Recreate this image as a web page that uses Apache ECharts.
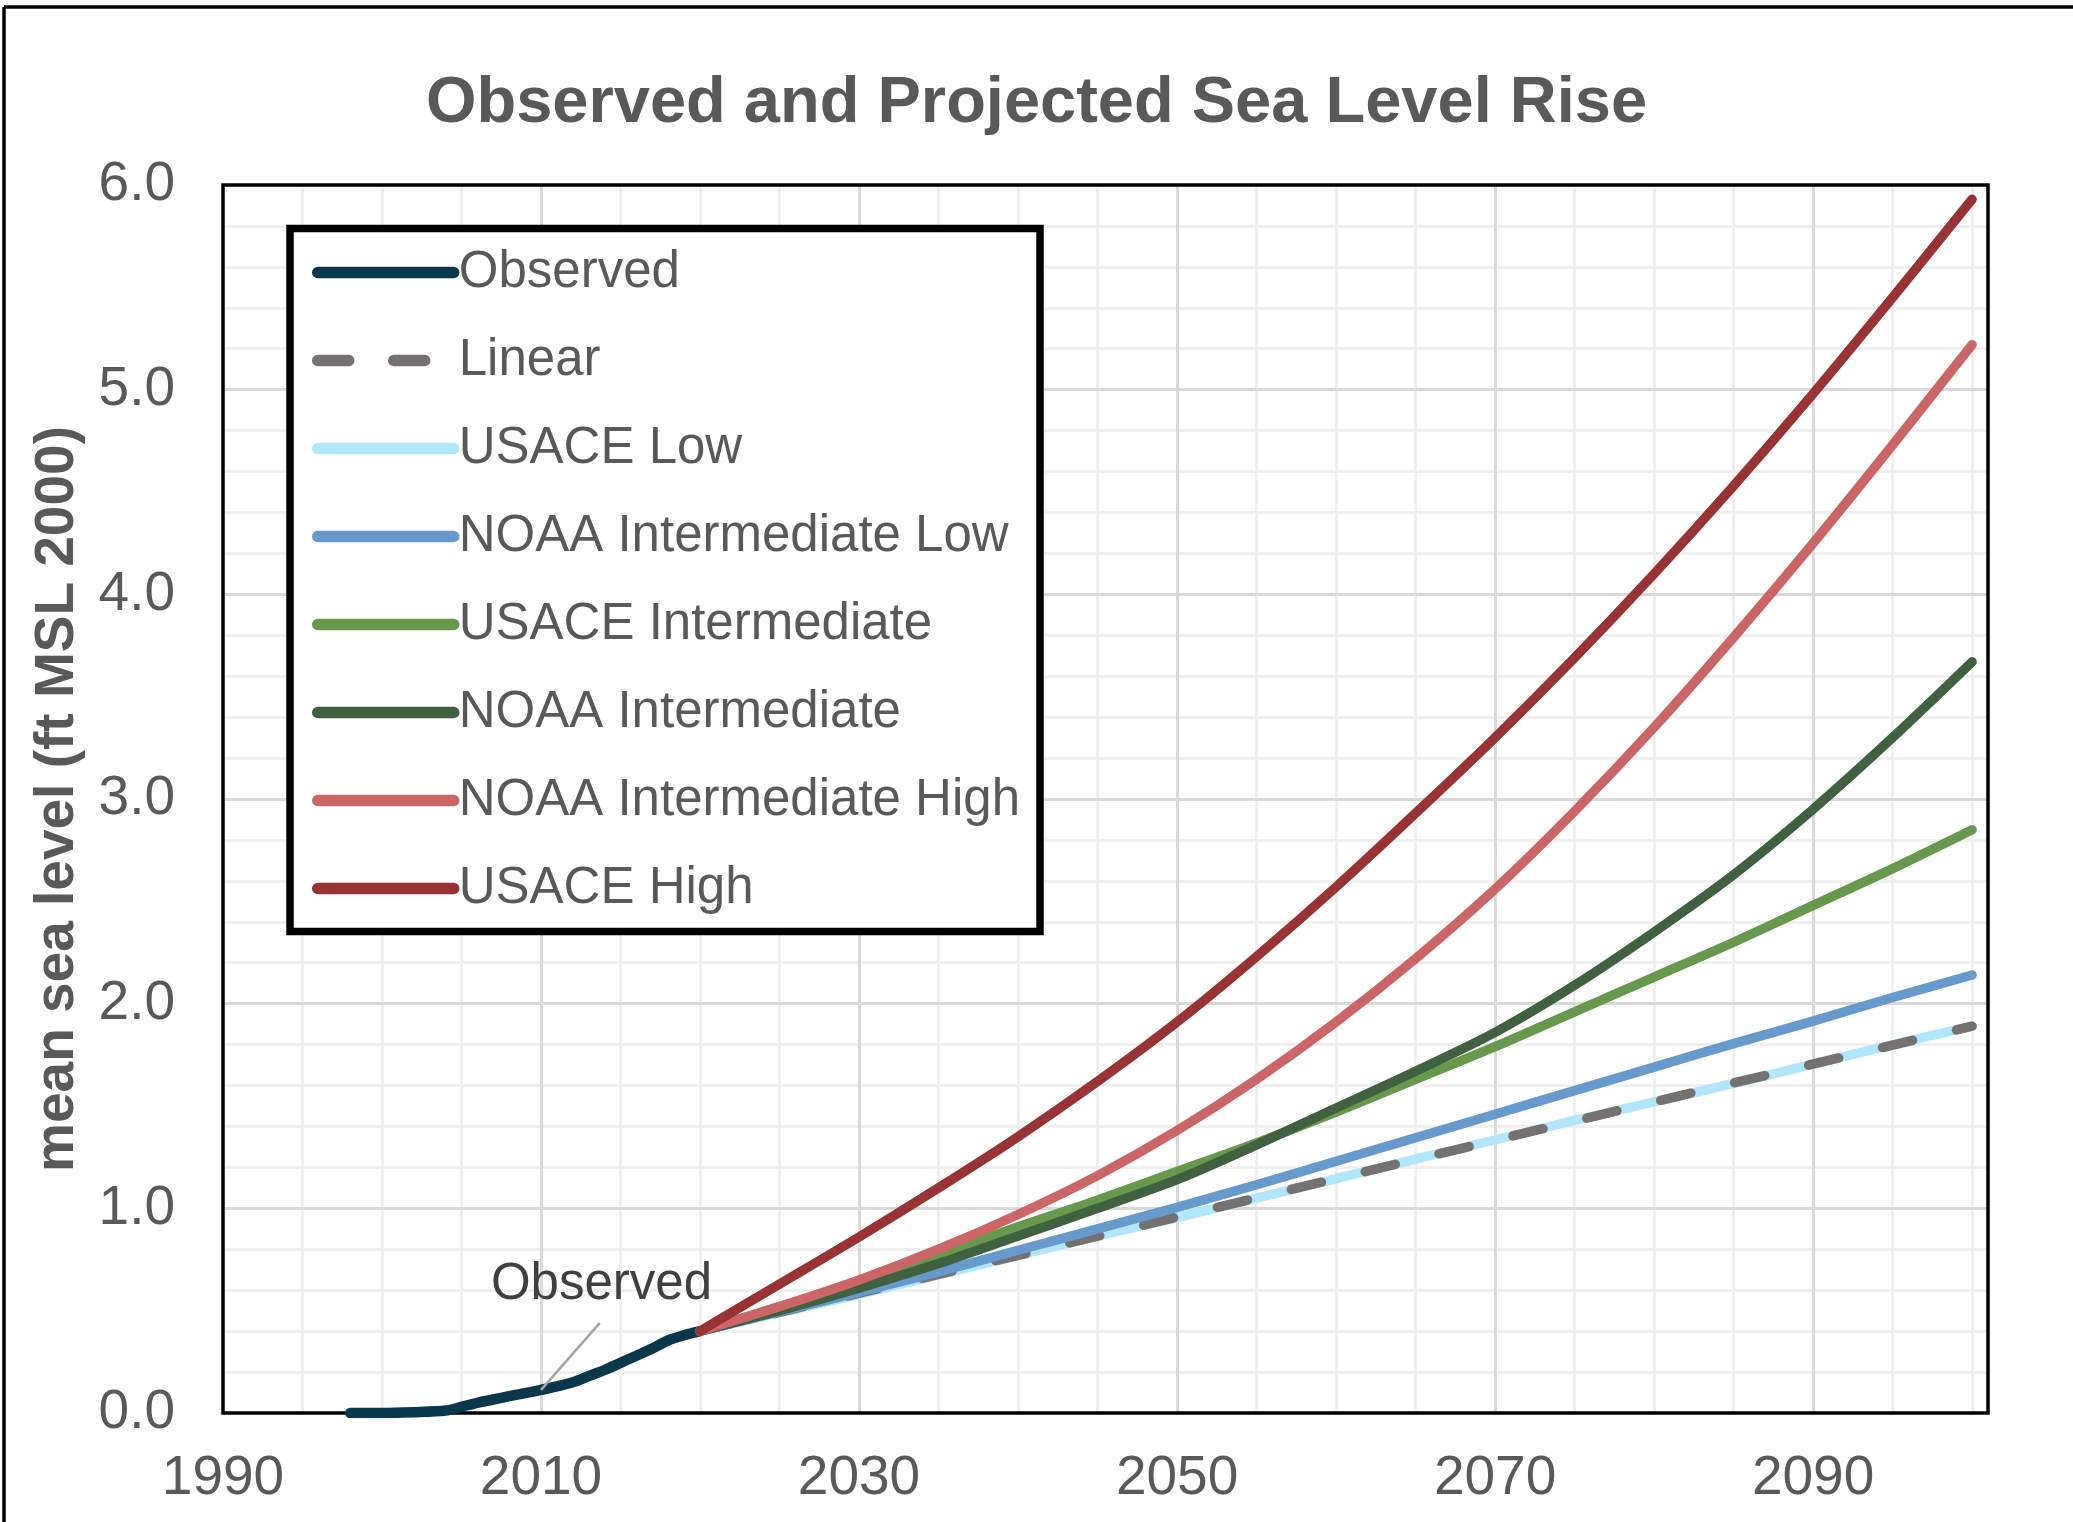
<!DOCTYPE html>
<html>
<head>
<meta charset="utf-8">
<script src="https://cdn.jsdelivr.net/npm/echarts@6/dist/echarts.min.js"></script>
<style>
  html, body { margin: 0; padding: 0; background: #ffffff; }
  #chart { width: 2073px; height: 1522px; }
</style>
</head>
<body>
<div id="chart"></div>
<script>
// ---- data ----
const obsYears  = [1998, 2000, 2002, 2004, 2005, 2006, 2007, 2008, 2009, 2010, 2011, 2012, 2013, 2014, 2015, 2016, 2017, 2018, 2019, 2020];
const obsValues = [0.0, 0.0, 0.004, 0.012, 0.030, 0.050, 0.066, 0.082, 0.097, 0.113, 0.130, 0.150, 0.180, 0.210, 0.245, 0.280, 0.315, 0.355, 0.380, 0.400];

const projYears = [2020, 2025, 2030, 2035, 2040, 2045, 2050, 2055, 2060, 2065, 2070, 2075, 2080, 2085, 2090, 2095, 2100];
const usaceLow        = [0.40, 0.49, 0.58, 0.675, 0.77, 0.865, 0.955, 1.05, 1.145, 1.24, 1.335, 1.43, 1.52, 1.61, 1.705, 1.80, 1.89];
const noaaIntLow      = [0.40, 0.495, 0.59, 0.69, 0.795, 0.90, 1.005, 1.115, 1.23, 1.345, 1.46, 1.575, 1.69, 1.805, 1.915, 2.03, 2.14];
const usaceInt        = [0.40, 0.52, 0.64, 0.77, 0.91, 1.04, 1.18, 1.32, 1.47, 1.63, 1.79, 1.96, 2.13, 2.30, 2.48, 2.66, 2.85];
const noaaInt         = [0.40, 0.50, 0.61, 0.73, 0.865, 1.00, 1.14, 1.31, 1.49, 1.67, 1.86, 2.09, 2.35, 2.63, 2.95, 3.30, 3.67];
const noaaIntHigh     = [0.40, 0.52, 0.65, 0.80, 0.97, 1.16, 1.38, 1.63, 1.91, 2.22, 2.56, 2.94, 3.35, 3.79, 4.25, 4.73, 5.22];
const usaceHigh       = [0.40, 0.63, 0.86, 1.10, 1.35, 1.62, 1.91, 2.23, 2.57, 2.93, 3.30, 3.69, 4.10, 4.53, 4.98, 5.45, 5.93];

const linearYears  = [2020, 2040, 2060, 2080, 2100];
const linearValues = [0.40, 0.77, 1.145, 1.52, 1.89];

const xTickYears = [1990, 2010, 2030, 2050, 2070, 2090];
const yTickValues = [0, 1, 2, 3, 4, 5, 6];

const legendOrder = ['Observed', 'Linear', 'USACE Low', 'NOAA Intermediate Low', 'USACE Intermediate', 'NOAA Intermediate', 'NOAA Intermediate High', 'USACE High'];

const annotationText = 'Observed';
const annotationPoint = [2010, 0.113];
const annotationLineEnd = [2013.7, 0.44];
const annotationLabelAt = [2013.8, 0.625];

// ---- helpers ----
function pairs(xs, ys) { return xs.map((x, i) => [x, ys[i]]); }
const FONT = "'Liberation Sans', Arial, sans-serif";
const GRID = { left: 223, top: 185, width: 1765, height: 1228 };
const LW = 9.5;

function lineSeries(name, xs, ys, color, extra) {
  return Object.assign({
    name: name,
    type: 'line',
    xAxisIndex: 1,
    yAxisIndex: 1,
    data: pairs(xs, ys),
    smooth: 0.3,
    symbol: 'none',
    showSymbol: false,
    silent: true,
    z: 2,
    lineStyle: { color: color, width: LW, cap: 'round', join: 'round' },
    itemStyle: { color: color }
  }, extra || {});
}

const series = [
  lineSeries('Observed', obsYears, obsValues, '#09374b', {
    lineStyle: { color: '#09374b', width: 10.5, cap: 'round', join: 'round' },
    markLine: {
      silent: true,
      symbol: 'none',
      label: { show: false },
      lineStyle: { color: '#a6a6a6', width: 2.5, type: 'solid' },
      data: [[{ coord: annotationPoint }, { coord: annotationLineEnd }]]
    },
    markPoint: {
      silent: true,
      symbol: 'circle',
      symbolSize: 0,
      data: [{ coord: annotationLabelAt }],
      label: {
        show: true, position: 'inside', formatter: annotationText,
        fontFamily: FONT, fontSize: 51, color: '#404040'
      }
    }
  }),
  lineSeries('USACE Low', projYears, usaceLow, '#b1e7fd'),
  lineSeries('Linear', linearYears, linearValues, '#767171', {
    smooth: false,
    lineStyle: { color: '#767171', width: LW, cap: 'round', type: [31, 45] }
  }),
  lineSeries('NOAA Intermediate Low', projYears, noaaIntLow, '#6699cc'),
  lineSeries('USACE Intermediate', projYears, usaceInt, '#67994c'),
  lineSeries('NOAA Intermediate', projYears, noaaInt, '#3f6140'),
  lineSeries('NOAA Intermediate High', projYears, noaaIntHigh, '#cc6666'),
  lineSeries('USACE High', projYears, usaceHigh, '#993333')
];

const chart = echarts.init(document.getElementById('chart'), null, { renderer: 'canvas' });

const option = {
  backgroundColor: '#ffffff',
  animation: false,
  textStyle: { fontFamily: FONT },
  title: {
    text: 'Observed and Projected Sea Level Rise',
    left: 'center',
    top: 67,
    textStyle: { fontFamily: FONT, fontSize: 65, fontWeight: 'bold', color: '#595959' }
  },
  grid: { left: GRID.left, top: GRID.top, width: GRID.width, height: GRID.height, containLabel: false },
  xAxis: [
    { // minor vertical grid every 5 years
      type: 'value', min: 1990, max: 2101, interval: 5, position: 'top', z: 0,
      axisLine: { show: false }, axisTick: { show: false }, axisLabel: { show: false },
      splitLine: { show: true, showMinLine: false, showMaxLine: false, lineStyle: { color: '#f0f0f0', width: 3 } }
    },
    { // major grid + labels
      type: 'value', min: 1990, max: 2101, interval: 20, position: 'bottom', z: 1,
      axisLine: { show: false }, axisTick: { show: false },
      axisLabel: {
        show: true, margin: 38, fontFamily: FONT, fontSize: 55, color: '#595959',
        showMaxLabel: false,
        formatter: function (v) { return xTickYears.indexOf(v) >= 0 ? String(v) : ''; }
      },
      splitLine: { show: true, showMinLine: false, showMaxLine: false, lineStyle: { color: '#d9d9d9', width: 3 } }
    }
  ],
  yAxis: [
    { // minor horizontal grid every 0.2
      type: 'value', min: 0, max: 6, interval: 0.2, position: 'right', z: 0,
      axisLine: { show: false }, axisTick: { show: false }, axisLabel: { show: false },
      splitLine: { show: true, showMinLine: false, showMaxLine: false, lineStyle: { color: '#f0f0f0', width: 3 } }
    },
    {
      type: 'value', min: 0, max: 6, interval: 1, position: 'left', z: 1,
      name: 'mean sea level (ft MSL 2000)',
      nameLocation: 'middle',
      nameGap: 138,
      nameTextStyle: { fontFamily: FONT, fontSize: 55, fontWeight: 'bold', color: '#595959' },
      axisLine: { show: false }, axisTick: { show: false },
      axisLabel: {
        show: true, margin: 48, fontFamily: FONT, fontSize: 55, color: '#595959',
        formatter: function (v) { return yTickValues.indexOf(v) >= 0 ? v.toFixed(1) : ''; }
      },
      splitLine: { show: true, showMinLine: false, showMaxLine: false, lineStyle: { color: '#d9d9d9', width: 3 } }
    }
  ],
  legend: {
    data: legendOrder,
    orient: 'vertical',
    left: 312,
    top: 244.5,
    padding: 0,
    itemWidth: 136,
    itemHeight: 24,
    itemGap: 32,
    selectedMode: false,
    z: 6,
    itemStyle: { opacity: 0 },
    lineStyle: { width: 11.5 },
    textStyle: { fontFamily: FONT, fontSize: 51, color: '#595959', lineHeight: 56 }
  },
  graphic: [
    { // plot frame
      type: 'rect', z: 1.5, silent: true,
      shape: { x: GRID.left, y: GRID.top, width: GRID.width, height: GRID.height },
      style: { fill: null, stroke: '#000000', lineWidth: 3.5 }
    },
    { // legend box
      type: 'rect', z: 5, silent: true,
      shape: { x: 290, y: 228.5, width: 750, height: 703 },
      style: { fill: '#ffffff', stroke: '#000000', lineWidth: 7.5 }
    },
    { // outer chart frame (left edge)
      type: 'line', z: 5, silent: true,
      shape: { x1: 4, y1: 7, x2: 4, y2: 1530 },
      style: { stroke: '#000000', lineWidth: 3.5 }
    },
    { // outer chart frame (top edge)
      type: 'line', z: 5, silent: true,
      shape: { x1: 4, y1: 7, x2: 2080, y2: 7 },
      style: { stroke: '#000000', lineWidth: 3.5 }
    }
  ],
  series: series
};

chart.setOption(option);
</script>
</body>
</html>
